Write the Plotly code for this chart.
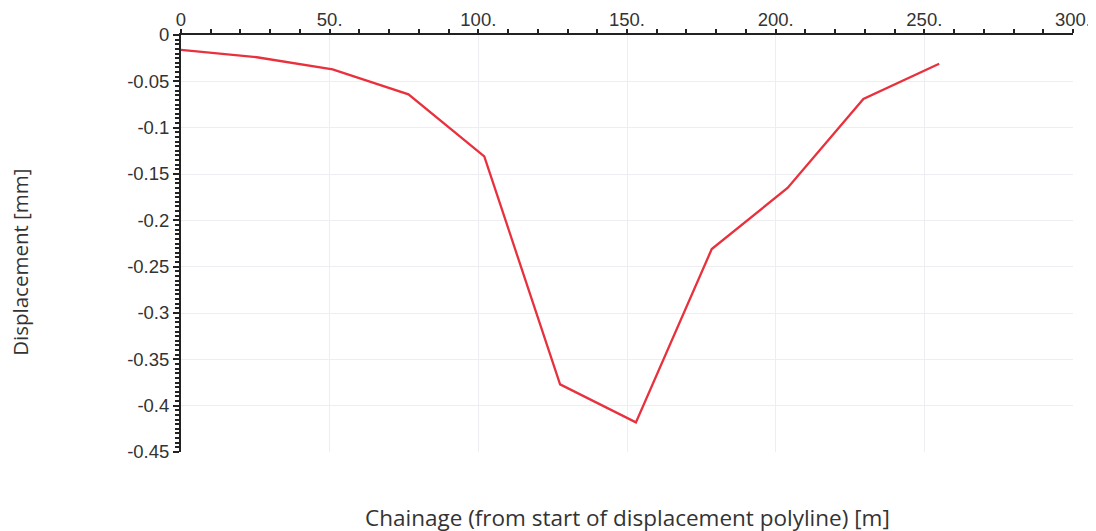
import plotly.graph_objects as go

# chainage along the displacement polyline [m] and displacement [mm]
chainage = [0, 25.5, 51, 76.5, 102, 127.5, 153, 178.5, 204, 229.5, 255]
displacement = [-0.016, -0.024, -0.037, -0.064, -0.131, -0.377, -0.418, -0.231, -0.165, -0.069, -0.031]

x_ticks = [0, 50, 100, 150, 200, 250, 300]
x_labels = ["0", "50.", "100.", "150.", "200.", "250.", "300."]
y_ticks = [0, -0.05, -0.1, -0.15, -0.2, -0.25, -0.3, -0.35, -0.4, -0.45]
y_labels = ["0", "-0.05", "-0.1", "-0.15", "-0.2", "-0.25", "-0.3", "-0.35", "-0.4", "-0.45"]

fig = go.Figure(go.Scatter(x=chainage, y=displacement, mode="lines",
                           line=dict(color="#e8313c", width=2.3)))

# page body adds an 8px offset, so the figure is sized to the remaining window
fig.update_layout(
    width=1088, height=523,
    margin=dict(l=173, r=23, t=27, b=79),
    plot_bgcolor="white", paper_bgcolor="white",
    showlegend=False,
    font=dict(family="Liberation Sans, Arial", size=18.5, color="#333"),
)

fig.update_xaxes(
    side="top", range=[0, 300], automargin=False,
    tickvals=x_ticks, ticktext=x_labels, ticklabelstandoff=-4,
    ticks="outside", ticklen=4, tickwidth=2, tickcolor="#222",
    minor=dict(dtick=10, ticks="outside", ticklen=4, tickwidth=1.5, tickcolor="#222", showgrid=False),
    showline=True, linecolor="#222", linewidth=2,
    showgrid=True, gridcolor="#eeeef2", gridwidth=1,
    zeroline=False,
)
fig.update_yaxes(
    range=[-0.45, 0], automargin=False,
    tickvals=y_ticks, ticktext=y_labels,
    ticks="outside", ticklen=6, tickwidth=2, tickcolor="#222",
    minor=dict(dtick=0.005, ticks="outside", ticklen=4, tickwidth=1.5, tickcolor="#222", showgrid=False),
    showline=True, linecolor="#222", linewidth=2,
    showgrid=True, gridcolor="#eeeef2", gridwidth=1,
    zeroline=False,
)

fig.add_annotation(
    text="Displacement [mm]", textangle=-90,
    xref="paper", yref="paper", x=-0.1805, y=0.456, xanchor="center", yanchor="middle", showarrow=False,
    font=dict(family="Open Sans", size=20.5, color="#333"),
)
fig.add_annotation(
    text="Chainage (from start of displacement polyline) [m]",
    xref="paper", yref="paper", x=0.5, y=-0.156, yanchor="middle", showarrow=False,
    font=dict(family="Open Sans", size=22.5, color="#333"),
)

fig.write_html("out.html")
